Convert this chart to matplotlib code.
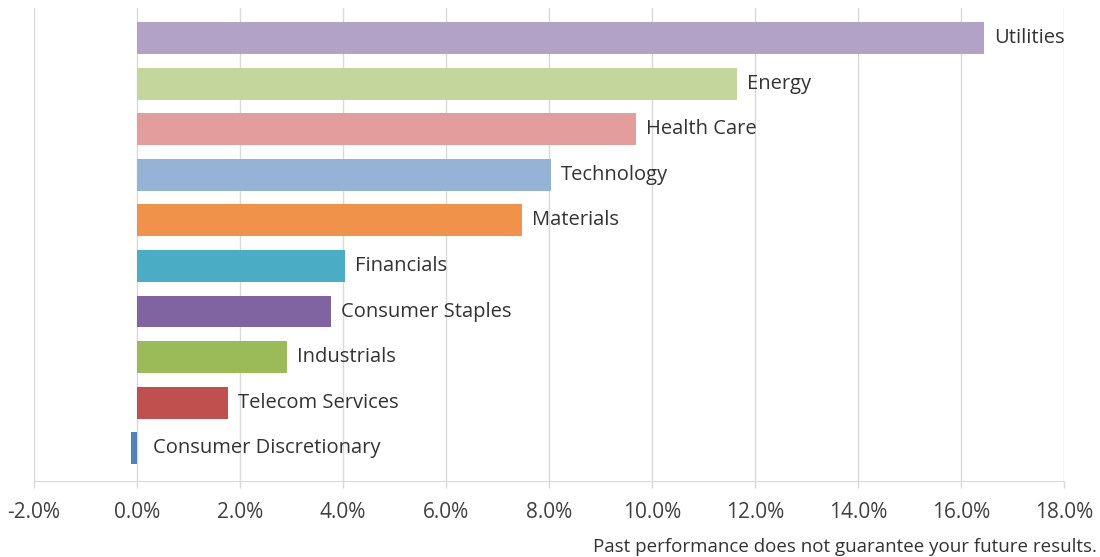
import matplotlib
matplotlib.use("Agg")
import matplotlib.pyplot as plt
from matplotlib.ticker import FuncFormatter

# Sector returns (%), listed bottom to top
sectors = ["Consumer Discretionary", "Telecom Services", "Industrials",
           "Consumer Staples", "Financials", "Materials", "Technology",
           "Health Care", "Energy", "Utilities"]
returns = [-0.12, 1.77, 2.91, 3.77, 4.04, 7.48, 8.04, 9.69, 11.65, 16.45]
colors = ["#4f81bd", "#c0504d", "#9bbb59", "#8064a2", "#4bacc6",
          "#f0924a", "#95b3d7", "#e29d9c", "#c3d69b", "#b3a2c7"]
xticks = [-2, 0, 2, 4, 6, 8, 10, 12, 14, 16, 18]
footnote = "Past performance does not guarantee your future results."

plt.rcParams["font.family"] = ["Open Sans", "DejaVu Sans"]

fig = plt.figure(figsize=(11, 5.57), dpi=100)
ax = fig.add_axes([0.031, 0.1364, 0.936, 0.849])

pos = list(range(len(sectors)))
ax.barh(pos, returns, height=0.7, color=colors, zorder=3)

for p, v, name in zip(pos, returns, sectors):
    x = max(v, 0) + (0.3 if v < 0 else 0.2)
    ax.text(x, p, name, va="center", ha="left", fontsize=14.5,
            color="#333333", zorder=4)

ax.set_xlim(-2, 18)
ax.set_ylim(-0.72, 9.66)
ax.set_xticks(xticks)
ax.xaxis.set_major_formatter(FuncFormatter(lambda v, _: f"{v:.1f}%"))
ax.set_yticks([])

ax.grid(axis="x", color="#d9d9d9", linewidth=1, zorder=0)
for side in ("top", "right"):
    ax.spines[side].set_visible(False)
ax.spines["left"].set_color("#d9d9d9")
ax.spines["bottom"].set_color("#d9d9d9")
ax.tick_params(axis="x", colors="#d9d9d9", length=5, width=1,
               labelcolor="#404040", labelsize=15, pad=10)

fig.text(0.997, 0.002, footnote, ha="right", va="bottom",
         fontsize=13.5, color="#333333")

fig.savefig("out.png", dpi=100, facecolor="white")
